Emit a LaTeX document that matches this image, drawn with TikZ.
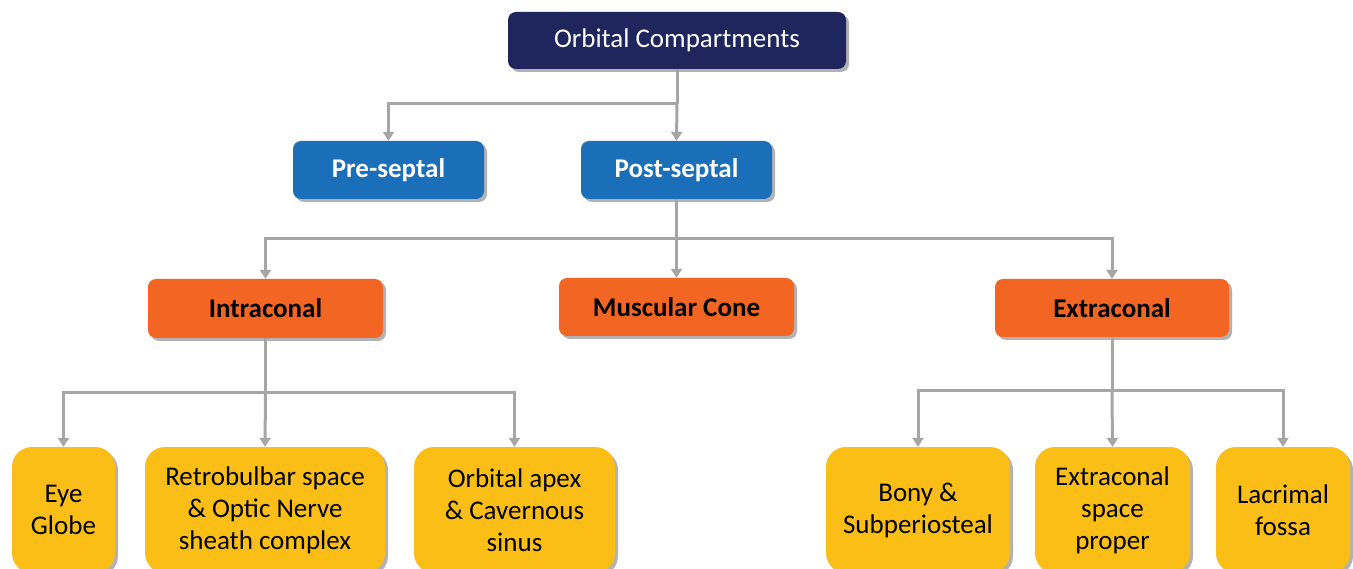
\documentclass[tikz,border=0pt]{standalone}
\usepackage{fontspec}
\setmainfont{Carlito}
\usetikzlibrary{arrows.meta,shadows}
\definecolor{navy}{HTML}{1F265E}
\definecolor{bluebox}{HTML}{1A6FB8}
\definecolor{orangebox}{HTML}{F26522}
\definecolor{yellowbox}{HTML}{FBBE16}
\definecolor{conn}{HTML}{A6A6A6}
\tikzset{
  box/.style={rectangle, rounded corners=8pt, inner sep=0pt, align=center,
    drop shadow={shadow xshift=3pt, shadow yshift=-3pt, fill=black, opacity=0.3}},
  topbox/.style={box, fill=navy, text=white, font=\fontsize{27}{32}\selectfont},
  lvl1/.style={box, fill=bluebox, text=white, font=\bfseries\fontsize{27}{32}\selectfont},
  lvl2/.style={box, fill=orangebox, text=black, font=\bfseries\fontsize{27}{32}\selectfont},
  leaf/.style={box, rounded corners=20pt, fill=yellowbox, text=black, font=\fontsize{27}{32}\selectfont},
  line/.style={draw=conn, line width=3pt},
  arr/.style={line, -{Triangle[width=11pt,length=9pt]}},
}
\begin{document}
\begin{tikzpicture}[x=1pt,y=-1pt]
\clip (0,0) rectangle (1353,569);
\useasboundingbox (0,0) rectangle (1353,569);
\fill[white] (0,0) rectangle (1353,569);

\node[topbox, minimum width=338pt, minimum height=57pt] (top) at (677,40.5) {Orbital Compartments};
\node[lvl1, minimum width=191pt, minimum height=58pt] (pre) at (388.5,170) {Pre-septal};
\node[lvl1, minimum width=191pt, minimum height=58pt] (post) at (676.5,170) {Post-septal};
\node[lvl2, minimum width=235pt, minimum height=59pt] (intra) at (265.5,308.5) {Intraconal};
\node[lvl2, minimum width=235pt, minimum height=58pt] (musc) at (676.5,307) {Muscular Cone};
\node[lvl2, minimum width=234pt, minimum height=58pt] (extra) at (1112,308) {Extraconal};

\node[leaf, minimum width=103pt, minimum height=126pt] (eye) at (63.5,510) {Eye\\Globe};
\node[leaf, minimum width=240pt, minimum height=126pt] (retro) at (265,510) {Retrobulbar space\\\& Optic Nerve\\sheath complex};
\node[leaf, minimum width=201pt, minimum height=126pt] (apex) at (514.5,510) {Orbital apex\\\& Cavernous\\sinus};
\node[leaf, minimum width=184pt, minimum height=126pt] (bony) at (918,510) {Bony \&\\Subperiosteal};
\node[leaf, minimum width=155pt, minimum height=126pt] (esp) at (1112.5,510) {Extraconal\\space\\proper};
\node[leaf, minimum width=134pt, minimum height=126pt] (lac) at (1283,510) {Lacrimal\\fossa};

\coordinate (j1) at (677,104);
\coordinate (j2) at (676.5,239);
\coordinate (j3) at (265.5,393);
\coordinate (j4) at (1112,391);

\draw[line] (top.south) -- (j1);
\draw[arr] (j1) -| (pre.north);
\draw[arr] (j1) -- (post.north);

\draw[line] (post.south) -- (j2);
\draw[arr] (j2) -| (intra.north);
\draw[arr] (j2) -- (musc.north);
\draw[arr] (j2) -| (extra.north);

\draw[line] (intra.south) -- (j3);
\draw[arr] (j3) -| (eye.north);
\draw[arr] (j3) -- (retro.north);
\draw[arr] (j3) -| (apex.north);

\draw[line] (extra.south) -- (j4);
\draw[arr] (j4) -| (bony.north);
\draw[arr] (j4) -- (esp.north);
\draw[arr] (j4) -| (lac.north);
\end{tikzpicture}
\end{document}
